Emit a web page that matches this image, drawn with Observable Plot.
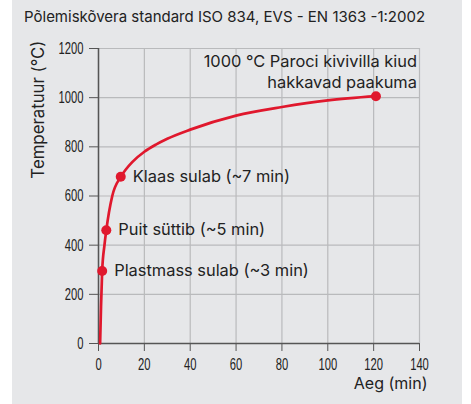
<!DOCTYPE html>
<html>
<head>
<meta charset="utf-8">
<script src="https://cdn.jsdelivr.net/npm/d3@7"></script>
<script src="https://cdn.jsdelivr.net/npm/@observablehq/plot@0.6"></script>
<style>
  html, body { margin: 0; padding: 0; background: #ffffff; }
  #box { position: absolute; left: 12px; top: 0; width: 450px; height: 404px; background: #e6e7e9; }
  #title { position: absolute; left: 12px; top: 7px; font-family: Inter, sans-serif; font-size: 15px; line-height: 20px; color: #222; white-space: nowrap; }
  #chart { position: absolute; left: 0; top: 30px; }
</style>
</head>
<body>
<div id="box">
  <div id="title">Põlemiskõvera standard ISO 834, EVS - EN 1363 -1:2002</div>
  <div id="chart"></div>
</div>
<script>
// Curve: time (min) and temperature (°C)
const curveTime = [0.7, 1.1, 1.6, 2.6, 3.4, 6.0, 9.7, 12, 14.7, 20, 25, 30, 40, 60, 80, 100, 121];
const curveTemp = [0, 150, 295, 400, 461, 600, 678, 709, 738, 780, 809, 833, 870, 927, 962, 989, 1006];

// Marked events
const eventTime = [1.6, 3.4, 9.7];
const eventTemp = [295, 461, 678];
const eventLabel = ["Plastmass sulab (~3 min)", "Puit süttib (~5 min)", "Klaas sulab (~7 min)"];

const endTime = [121];
const endTemp = [1006];
const endLabel = ["1000 °C Paroci kivivilla kiud\nhakkavad paakuma"];

const xTicks = [0, 20, 40, 60, 80, 100, 120, 140];
const yTicks = [0, 200, 400, 600, 800, 1000, 1200];

const xLabel = "Aeg (min)";
const yLabel = "Temperatuur (°C)";

const curve = curveTime.map((t, i) => ({t, T: curveTemp[i]}));
const events = eventTime.map((t, i) => ({t, T: eventTemp[i], label: eventLabel[i]}));
const ends = endTime.map((t, i) => ({t, T: endTemp[i], label: endLabel[i]}));

const red = "#e0182d";
const sans = "Inter, sans-serif";
const tickFont = "'Liberation Sans', Arial, sans-serif";

const chart = Plot.plot({
  width: 450,
  height: 374,
  marginLeft: 86,
  marginRight: 43,
  marginTop: 18,
  marginBottom: 61,
  style: {background: "transparent", color: "#222"},
  x: {domain: [0, 140], ticks: xTicks},
  y: {domain: [0, 1200], ticks: yTicks},
  marks: [
    Plot.gridX(xTicks, {stroke: "#b9babc", strokeOpacity: 1, strokeWidth: 1.2}),
    Plot.gridY(yTicks, {stroke: "#b9babc", strokeOpacity: 1, strokeWidth: 1.2}),
    Plot.axisX(xTicks, {label: null, tickSize: 8, tickPadding: 6, tickFormat: d => String(d), fontSize: 17, fontFamily: tickFont, stroke: "#555", fill: "#222"}),
    Plot.axisY(yTicks, {label: null, tickSize: 9, tickPadding: 6, tickFormat: d => String(d), fontSize: 17, fontFamily: tickFont, stroke: "#555", fill: "#222"}),
    Plot.ruleX([0], {stroke: "#555", strokeWidth: 1.5}),
    Plot.ruleY([0], {stroke: "#555", strokeWidth: 1.5}),
    Plot.line(curve, {x: "t", y: "T", stroke: red, strokeWidth: 2.7, curve: "monotone-x"}),
    Plot.dot(events, {x: "t", y: "T", r: 5, fill: red}),
    Plot.dot(ends, {x: "t", y: "T", r: 5, fill: red}),
    Plot.text(events, {x: "t", y: "T", text: "label", dx: 12, textAnchor: "start", fontSize: 16.4, fontFamily: sans, fill: "#222"}),
    Plot.text(ends, {x: "t", y: "T", text: "label", dx: 41, dy: -25, textAnchor: "end", lineHeight: 1.26, fontSize: 16.4, fontFamily: sans, fill: "#222"}),
    Plot.text([xLabel], {frameAnchor: "bottom-right", textAnchor: "end", dx: 8, dy: 45, fontSize: 16, fontFamily: sans, fill: "#222"}),
    Plot.text([yLabel], {frameAnchor: "top-left", rotate: -90, textAnchor: "end", dx: -66, dy: -8, fontSize: 16.8, fontFamily: sans, fill: "#222"})
  ]
});
document.getElementById("chart").appendChild(chart);

// Condense tick labels horizontally (narrow tick font in the reference)
const sx = 0.66;
chart.querySelectorAll('g[aria-label$="tick label"] text').forEach(el => {
  const len = el.getComputedTextLength();
  if (len > 0) {
    el.setAttribute("textLength", (len * sx).toFixed(2));
    el.setAttribute("lengthAdjust", "spacingAndGlyphs");
  }
});
</script>
</body>
</html>
